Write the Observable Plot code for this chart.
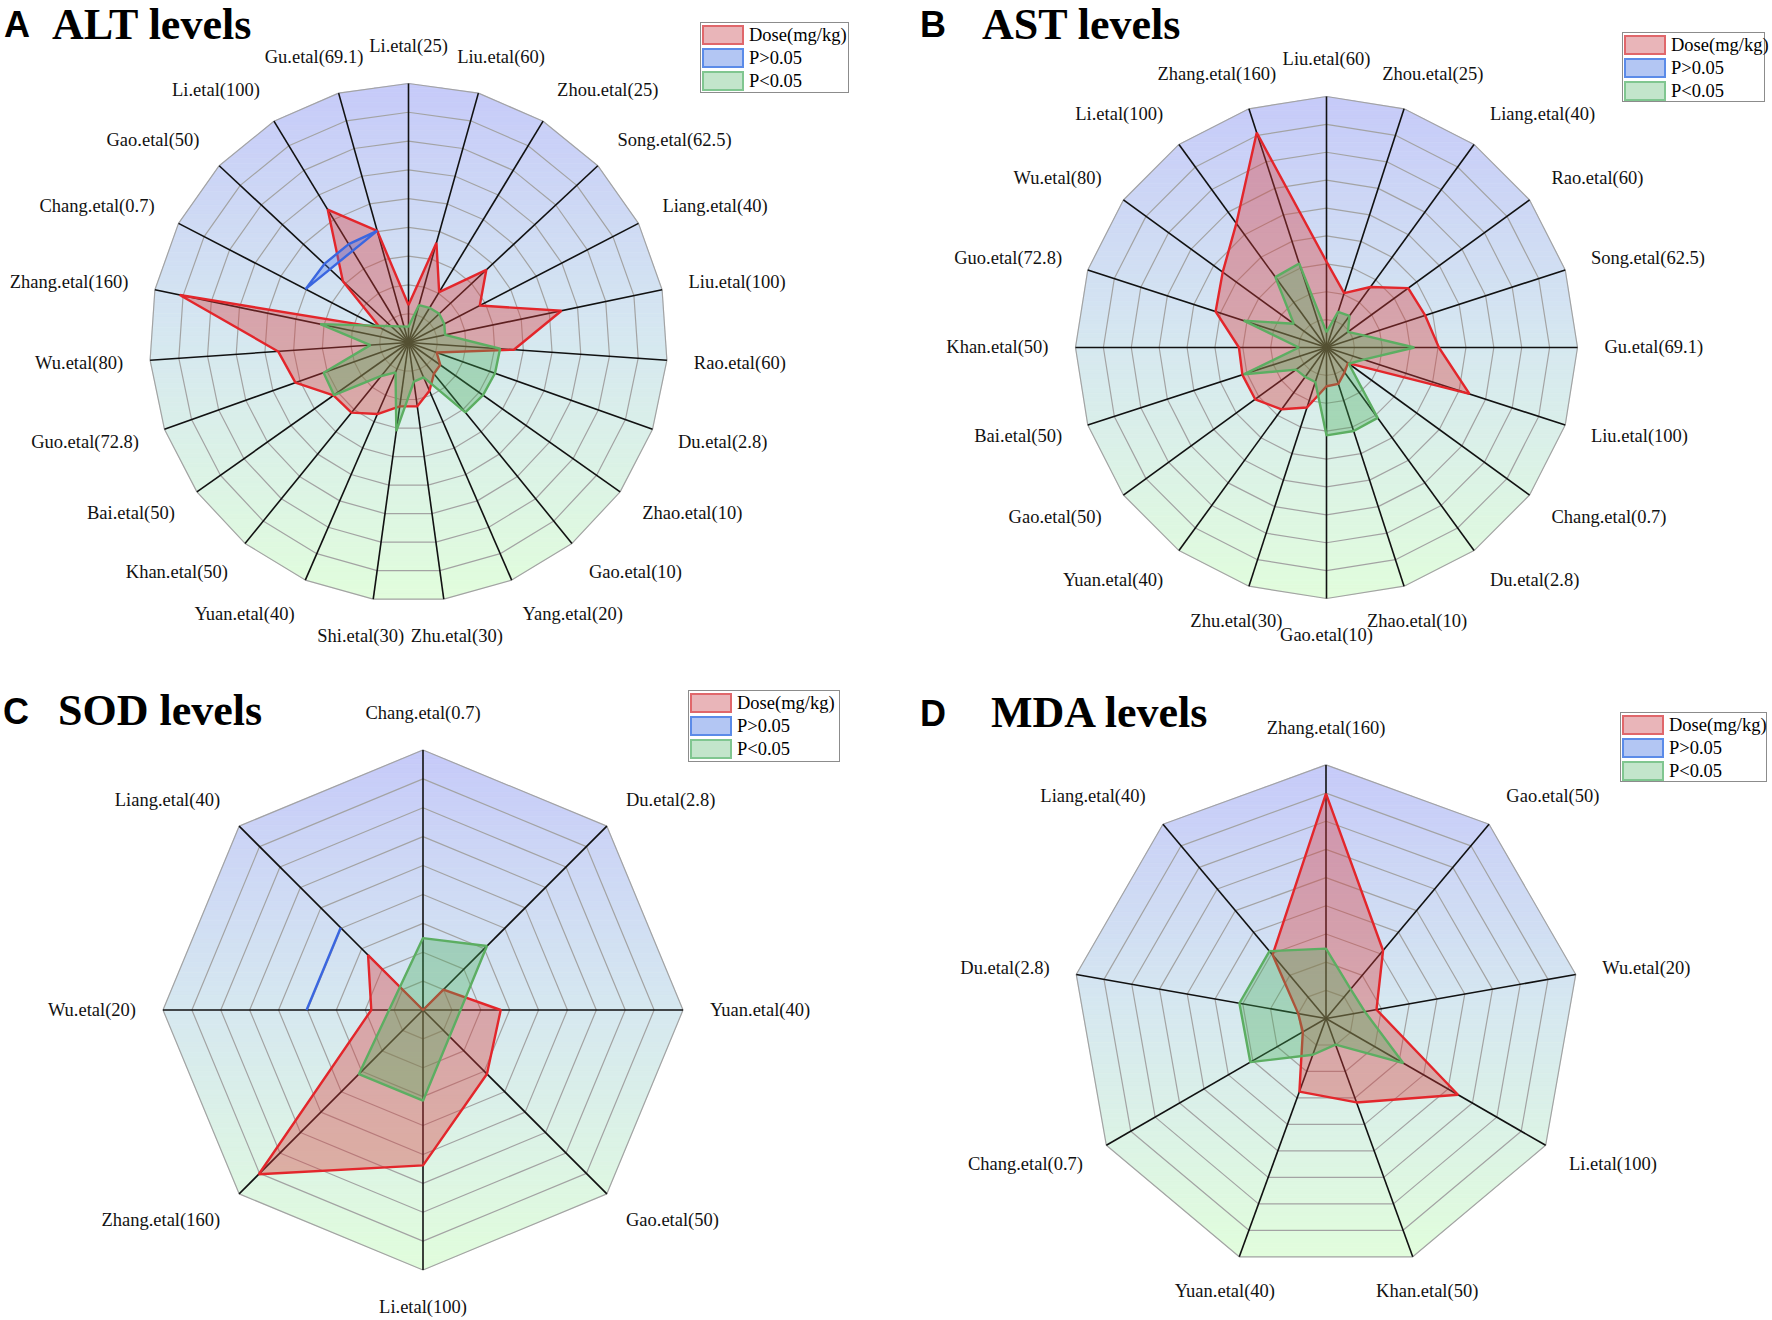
<!DOCTYPE html>
<html><head><meta charset="utf-8">
<script src="https://cdn.jsdelivr.net/npm/d3@7"></script>
<script src="https://cdn.jsdelivr.net/npm/@observablehq/plot@0.6"></script>
<style>
body{margin:0;background:#fff;}
#page{position:relative;width:1772px;height:1320px;overflow:hidden;background:#fff;}
.panel{position:absolute;}
.tl{position:absolute;font-family:'Liberation Sans',Arial,sans-serif;font-weight:bold;font-size:36px;line-height:30px;white-space:nowrap;color:#000;}
.tt{position:absolute;font-family:'Liberation Serif','Times New Roman',serif;font-weight:bold;font-size:44px;line-height:30px;white-space:nowrap;color:#000;}
.leg{position:absolute;border:1.5px solid #8c8c8c;background:#fff;box-sizing:border-box;font-family:'Liberation Serif','Times New Roman',serif;font-size:18.5px;}
.row{position:absolute;left:1px;height:22px;display:flex;align-items:center;white-space:nowrap;}
.sw{width:42px;height:20px;border:2px solid;box-sizing:border-box;margin-right:5px;}
</style></head>
<body>
<div id="page"></div>
<script>
// ---------- DATA (radial values in ring units, 0-9; null = not plotted) ----------
const labelsA = ["Li.etal(25)","Liu.etal(60)","Zhou.etal(25)","Song.etal(62.5)","Liang.etal(40)","Liu.etal(100)","Rao.etal(60)","Du.etal(2.8)","Zhao.etal(10)","Gao.etal(10)","Yang.etal(20)","Zhu.etal(30)","Shi.etal(30)","Yuan.etal(40)","Khan.etal(50)","Bai.etal(50)","Guo.etal(72.8)","Wu.etal(80)","Zhang.etal(160)","Chang.etal(0.7)","Gao.etal(50)","Li.etal(100)","Gu.etal(69.1)"];
const doseA  = [1.3,3.6,2.05,3.7,2.79,5.43,3.67,1.04,1.35,1.4,1.83,2.24,2.24,2.71,3.14,3.19,4.17,4.54,8.12,1.1,3.12,5.4,4.03];
const greenA = [0.55,1.35,1.41,1.46,1.4,1.3,3.19,3.19,3.17,3.13,1.32,1.37,3.11,1.13,1.5,3.17,3.13,1.33,3.13,null,null,null,null];
const blueA  = [null,null,null,null,null,null,null,null,null,null,null,null,null,null,null,null,null,null,null,4.03,4.0,4.0,4.03];

const labelsB = ["Liu.etal(60)","Zhou.etal(25)","Liang.etal(40)","Rao.etal(60)","Song.etal(62.5)","Gu.etal(69.1)","Liu.etal(100)","Chang.etal(0.7)","Du.etal(2.8)","Zhao.etal(10)","Gao.etal(10)","Zhu.etal(30)","Yuan.etal(40)","Gao.etal(50)","Bai.etal(50)","Khan.etal(50)","Guo.etal(72.8)","Wu.etal(80)","Li.etal(100)","Zhang.etal(160)"];
const doseB  = [3.08,2.05,2.68,3.62,3.72,4.03,5.39,0.95,1.1,1.37,1.39,2.26,2.74,3.16,3.17,3.14,4.18,4.6,5.5,8.1];
const greenB = [0.55,1.34,1.4,0.95,1.4,3.15,1.4,0.99,3.12,3.15,3.15,1.3,1.3,1.35,3.12,0.99,3.12,1.45,3.12,3.17];
const blueB  = labelsB.map(() => null);

const labelsC = ["Chang.etal(0.7)","Du.etal(2.8)","Yuan.etal(40)","Gao.etal(50)","Li.etal(100)","Zhang.etal(160)","Wu.etal(20)","Liang.etal(40)"];
const doseC  = [0,1.0,2.69,3.13,5.38,8.04,1.79,2.69];
const greenC = [2.49,3.13,null,null,3.14,3.14,null,null];
const blueC  = [null,null,null,null,null,null,4.03,4.03];

const labelsD = ["Zhang.etal(160)","Gao.etal(50)","Wu.etal(20)","Li.etal(100)","Khan.etal(50)","Yuan.etal(40)","Chang.etal(0.7)","Du.etal(2.8)","Liang.etal(40)"];
const doseD  = [7.98,3.15,1.82,5.41,3.17,2.76,0.95,1.0,2.95];
const greenD = [2.48,1.36,1.4,3.17,0.99,1.37,3.1,3.12,3.12];
const blueD  = labelsD.map(() => null);

const legendItems = ["Dose(mg/kg)","P>0.05","P<0.05"];
const titles = [["A","ALT levels"],["B","AST levels"],["C","SOD levels"],["D","MDA levels"]];
const levels = 9;
const bgStops = ["#c6caf9", "#d6e8f0", "#e1fddc"];

// ---------- DRAWING ----------
const page = document.getElementById("page");
const ctx = document.createElement("canvas").getContext("2d");
ctx.font = "18.5px 'Liberation Serif'";
const W = 886, H = 660;
const bgColor = d3.piecewise(d3.interpolateRgb, bgStops);

function clipHalf(pts, keep, y0) {
  const out = [];
  for (let i = 0; i < pts.length; i++) {
    const a = pts[i], b = pts[(i + 1) % pts.length];
    const ka = keep(a), kb = keep(b);
    if (ka) out.push(a);
    if (ka !== kb) { const t = (y0 - a.y) / (b.y - a.y); out.push({x: a.x + t * (b.x - a.x), y: y0}); }
  }
  return out;
}

function bands(outer, K) {
  const ys = outer.map(d => d.y), ymax = d3.max(ys), ymin = d3.min(ys), dh = (ymax - ymin) / K;
  const res = [];
  for (let k = 0; k < K; k++) {
    const hi = ymax - k * dh, lo = ymax - (k + 1) * dh;
    let pts = clipHalf(outer, d => d.y <= hi, hi);
    pts = clipHalf(pts, d => d.y >= lo, lo);
    const col = bgColor((k + 0.5) / K);
    pts.forEach(d => res.push({x: d.x, y: d.y, band: k, col}));
  }
  return res;
}

function radar(p) {
  const n = p.labels.length, u = p.R / levels;
  const th = i => 2 * Math.PI * i / n;
  const P = (i, v) => ({i, x: v * Math.sin(th(i)), y: v * Math.cos(th(i))});
  const rings = d3.range(1, levels + 1).flatMap(k => d3.range(n).map(i => ({...P(i, k), k})));
  const outer = d3.range(n).map(i => P(i, levels));
  const series = vals => vals.map((v, i) => v == null ? null : P(i, v)).filter(d => d);
  const labs = p.labels.map((t, i) => {
    const a = th(i), s = Math.sin(a), c = Math.cos(a);
    const w = ctx.measureText(t).width, h = 20, rr = p.R + 27;
    let f;
    if (Math.abs(s) >= 0.36) f = Math.sign(s);
    else if (c > 0) f = 1.3 * s;
    else f = Math.abs(s) < 0.2 ? 1.5 * s : 0.3 * s;
    return {t, x: (rr * s + f * w / 2) / u, y: (rr * c + c * h / 2) / u};
  });
  const poly = (data, fill, stroke, op) => Plot.line(data, {x: "x", y: "y", curve: "linear-closed",
    fill, fillOpacity: op, stroke, strokeWidth: 2.4, strokeLinejoin: "miter"});
  const marks = [
    Plot.line(bands(outer, 110), {x: "x", y: "y", z: "band", fill: "col", stroke: "col", strokeWidth: 0.8, curve: "linear-closed"}),
    Plot.line(rings, {x: "x", y: "y", z: "k", curve: "linear-closed", stroke: "#a3a3a3", strokeWidth: 1.2}),
    Plot.link(outer, {x1: d => 0, y1: d => 0, x2: "x", y2: "y", stroke: "#111", strokeWidth: 1.6}),
    poly(series(p.dose), "#db3a3a", "#e3262b", 0.38),
  ];
  const b = series(p.blue);
  if (b.length) marks.push(poly(b, "#4a78ee", "#3a66e0", 0.35));
  const g = series(p.green);
  if (g.length) marks.push(poly(g, "#46ad55", "#5cae62", 0.35));
  marks.push(Plot.text(labs, {x: "x", y: "y", text: "t", fontFamily: "'Liberation Serif','Times New Roman',serif",
    fontSize: 18.5, fill: "#111", textAnchor: "middle", lineAnchor: "middle"}));
  const out = Plot.plot({
    width: W, height: H, margin: 0,
    x: {domain: [-p.cx / u, (W - p.cx) / u], axis: null},
    y: {domain: [-(H - p.cy) / u, p.cy / u], axis: null},
    color: {type: "identity"},
    style: {background: "transparent", overflow: "visible"},
    marks
  });
  const div = document.createElement("div");
  div.className = "panel"; div.style.left = p.left + "px"; div.style.top = p.top + "px";
  div.appendChild(out); page.appendChild(div);
}

function title(idx, lx, tx, baseline) {
  const a = document.createElement("div"); a.className = "tl"; a.textContent = titles[idx][0];
  a.style.left = lx + "px"; a.style.top = (baseline - 2 - 27.5) + "px"; page.appendChild(a);
  const t = document.createElement("div"); t.className = "tt"; t.textContent = titles[idx][1];
  t.style.left = tx + "px"; t.style.top = (baseline - 29.9) + "px"; page.appendChild(t);
}

function legend(left, top, w, h) {
  const box = document.createElement("div"); box.className = "leg";
  Object.assign(box.style, {left: left + "px", top: top + "px", width: w + "px", height: h + "px"});
  const sw = [["#e9b5b9", "#e0676b"], ["#b3c6f3", "#5b8be8"], ["#c3e5cb", "#80c690"]];
  legendItems.forEach((t, i) => {
    const r = document.createElement("div"); r.className = "row"; r.style.top = (1 + i * 23.2) + "px";
    const s = document.createElement("div"); s.className = "sw";
    s.style.background = sw[i][0]; s.style.borderColor = sw[i][1];
    const tx = document.createElement("span"); tx.textContent = t;
    r.appendChild(s); r.appendChild(tx); box.appendChild(r);
  });
  page.appendChild(box);
}

radar({id: "A", labels: labelsA, dose: doseA, green: greenA, blue: blueA, left: 0, top: 0, cx: 408, cy: 342, R: 259});
radar({id: "B", labels: labelsB, dose: doseB, green: greenB, blue: blueB, left: 886, top: 0, cx: 440, cy: 347, R: 251});
radar({id: "C", labels: labelsC, dose: doseC, green: greenC, blue: blueC, left: 0, top: 660, cx: 422.5, cy: 349.5, R: 260});
radar({id: "D", labels: labelsD, dose: doseD, green: greenD, blue: blueD, left: 886, top: 660, cx: 439.5, cy: 358, R: 253.6});

title(0, 4, 52, 39.5);
title(1, 920, 982, 39.5);
title(2, 3, 58, 726);
title(3, 920, 991, 728);

legend(700, 22, 149, 71);
legend(1622, 32, 143, 70);
legend(688, 690, 152, 72);
legend(1620, 712, 147, 70);
</script></body></html>
